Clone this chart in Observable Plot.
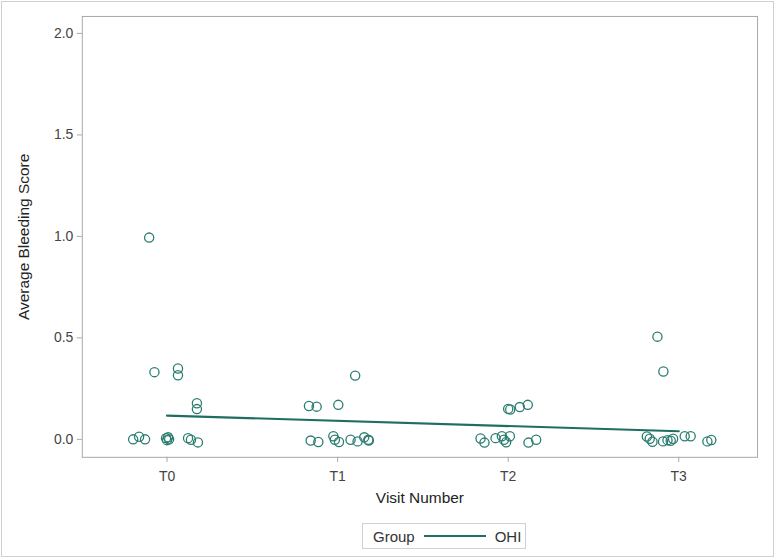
<!DOCTYPE html>
<html>
<head>
<meta charset="utf-8">
<script src="https://cdn.jsdelivr.net/npm/d3@7"></script>
<script src="https://cdn.jsdelivr.net/npm/@observablehq/plot@0.6"></script>
<style>
  html, body { margin: 0; padding: 0; background: #fff; }
  #frame {
    position: relative;
    width: 771px; height: 554px;
    margin: 1px 0 0 1px;
    border: 1px solid #d0d0d0;
    font-family: Arial, "Liberation Sans", sans-serif;
    overflow: hidden;
  }
  #chart { position: absolute; left: -2px; top: -2px; }
  #legend {
    position: absolute; left: 360px; top: 521px;
    height: 24px; padding: 0 4px 0 10px;
    border: 1px solid #d0d0d0;
    display: flex; align-items: center; gap: 9px;
    font-size: 15px; color: #333;
  }
</style>
</head>
<body>
<div id="frame">
  <div id="chart"></div>
  <div id="legend"></div>
</div>
<script>
// Visit labels shown on the x axis (visit index 0..3)
const visitTicks = [0, 1, 2, 3];
const visitLabels = ["T0", "T1", "T2", "T3"];

// Per-subject average bleeding scores, x is the visit index with jitter applied
const visitJitter = [
  -0.105, -0.074, 0.064, 0.064, 0.175, 0.175, -0.199, -0.164, -0.129, -0.006, 0.006, 0.012, 0.000, 0.123, 0.140, 0.181,
  1.103, 0.832, 0.877, 1.004, 0.842, 0.887, 0.975, 0.984, 1.008, 1.076, 1.117, 1.156, 1.180, 1.183,
  2.000, 2.012, 2.068, 2.115, 1.838, 1.861, 1.926, 1.963, 1.975, 1.988, 2.010, 2.119, 2.164,
  2.875, 2.910, 2.813, 2.830, 2.846, 2.908, 2.934, 2.953, 2.967, 3.035, 3.070, 3.168, 3.191
];
const scores = [
  0.994, 0.331, 0.349, 0.316, 0.178, 0.149, 0.000, 0.013, 0.000, 0.006, 0.010, 0.000, -0.004, 0.006, -0.002, -0.015,
  0.314, 0.164, 0.161, 0.170, -0.006, -0.013, 0.015, -0.002, -0.013, -0.002, -0.010, 0.010, -0.002, -0.006,
  0.150, 0.147, 0.159, 0.170, 0.004, -0.016, 0.006, 0.015, -0.002, -0.014, 0.015, -0.016, -0.002,
  0.506, 0.334, 0.014, 0.003, -0.012, -0.010, -0.004, -0.007, 0.003, 0.015, 0.015, -0.010, -0.003
];

// Fitted trend for the OHI group
const fitVisits = [0, 3];
const fitScores = [0.117, 0.040];
const groupName = "OHI";

const dotColor = "#2a7d70";
const lineColor = "#1f6e62";
const axisColor = "#a8a8a8";

const points = visitJitter.map((v, i) => ({visit: v, score: scores[i]}));
const fit = fitVisits.map((v, i) => ({visit: v, score: fitScores[i]}));

const chart = Plot.plot({
  width: 775,
  height: 512,
  marginLeft: 82,
  marginRight: 16,
  marginTop: 16,
  marginBottom: 54,
  style: {fontFamily: "Arial, 'Liberation Sans', sans-serif", fontSize: "14px", color: "#444", background: "transparent"},
  x: {domain: [-0.497, 3.462]},
  y: {domain: [-0.0885, 2.0835]},
  marks: [
    Plot.frame({stroke: axisColor}),
    Plot.axisY({
      ticks: [0, 0.5, 1, 1.5, 2],
      tickFormat: d3.format(".1f"),
      tickSize: 5, tickPadding: 4,
      stroke: axisColor,
      fontSize: 14,
      label: "Average Bleeding Score",
      labelAnchor: "center",
      labelArrow: "none",
      labelOffset: 64
    }),
    Plot.axisX({
      ticks: visitTicks,
      tickFormat: d => visitLabels[d],
      tickSize: 5, tickPadding: 9,
      stroke: axisColor,
      fontSize: 14,
      label: "Visit Number",
      labelAnchor: "center",
      labelArrow: "none",
      labelOffset: 46
    }),
    Plot.line(fit, {x: "visit", y: "score", stroke: lineColor, strokeWidth: 2.2}),
    Plot.dot(points, {x: "visit", y: "score", r: 4.6, stroke: dotColor, strokeWidth: 1.3, fill: "none"})
  ]
});

// Axis titles slightly larger than tick labels
d3.select(chart).selectAll("g[aria-label='y-axis label'] text, g[aria-label='x-axis label'] text")
  .style("font-size", "15.5px").attr("fill", "#222");

document.getElementById("chart").appendChild(chart);

// Group legend below the plot
const legend = d3.select("#legend");
legend.append("span").text("Group");
const sw = legend.append("svg").attr("width", 62).attr("height", 10);
sw.append("line").attr("x1", 0).attr("x2", 62).attr("y1", 5).attr("y2", 5)
  .attr("stroke", lineColor).attr("stroke-width", 2.2);
legend.append("span").text(groupName);
</script>
</body>
</html>
